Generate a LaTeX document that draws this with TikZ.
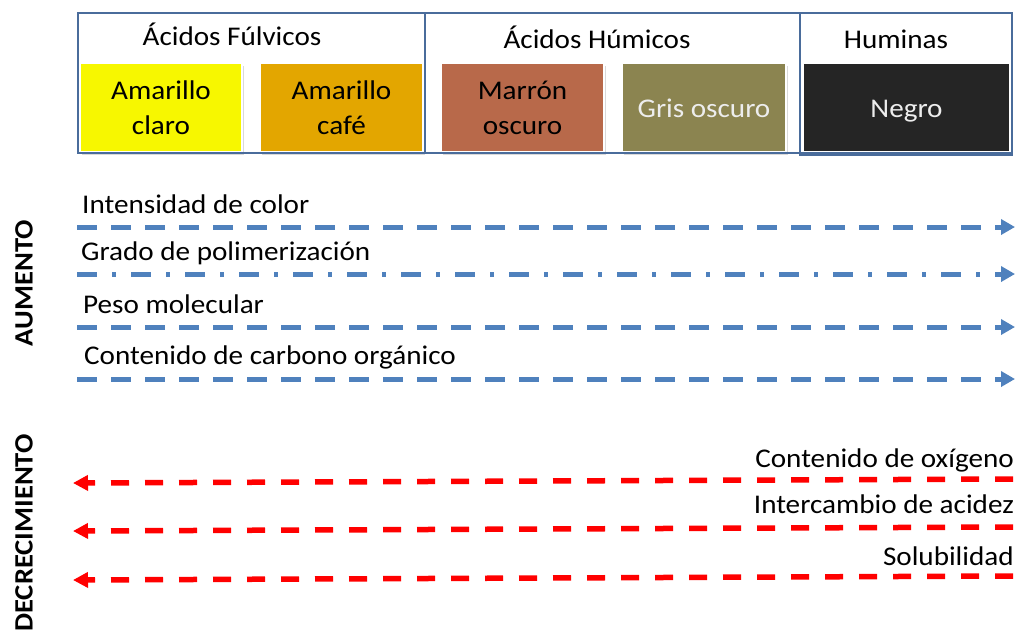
\documentclass[tikz,border=0pt]{standalone}
\usepackage{fontspec}
\setmainfont{Carlito}[FakeStretch=1.08]
\usepackage{tikz}
\usetikzlibrary{arrows.meta,shadows}
\definecolor{frameblue}{HTML}{4A6C9B}
\definecolor{arrowblue}{HTML}{4F81BD}
\definecolor{clarofill}{HTML}{F7F700}
\definecolor{cafefill}{HTML}{E3A600}
\definecolor{marronfill}{HTML}{B8694A}
\definecolor{grisfill}{HTML}{8B8450}
\definecolor{negrofill}{HTML}{252525}

\begin{document}
\begin{tikzpicture}[x=1pt,y=-1pt,font=\fontsize{27}{35}\selectfont,
  swatch/.style={draw=white,line width=1.5pt,minimum width=#1,minimum height=89pt,inner sep=0pt,align=center,
    drop shadow={shadow xshift=1.5pt,shadow yshift=-2.5pt,opacity=0.3}},
  group/.style={draw=frameblue,line width=2pt},
  head/.style={anchor=base,inner sep=0pt},
  incr/.style={draw=arrowblue,line width=5pt,dash pattern=on 20pt off 14pt,-{Triangle[length=14pt,width=15pt]}},
  decr/.style={draw=red,line width=5.5pt,dash pattern=on 18pt off 16pt,-{Triangle[length=15pt,width=15pt]}},
  lbl/.style={anchor=base west,inner sep=0pt},
  rlbl/.style={anchor=base east,inner sep=0pt},
  side/.style={font=\fontsize{26.5}{30}\selectfont\bfseries,rotate=90}]
  \useasboundingbox (0,0) rectangle (1020,633);
  % colour swatches
  \node[swatch=162pt,fill=clarofill]  (claro)  at (161,107.5)   {Amarillo\\claro};
  \node[swatch=163pt,fill=cafefill]   (cafe)   at (341.5,107.5) {Amarillo\\café};
  \node[swatch=163pt,fill=marronfill] (marron) at (522.5,107.5) {Marrón\\oscuro};
  \node[swatch=164pt,fill=grisfill,text=white!93!black] (gris) at (704,107.5) {\raisebox{-9.5pt}[0pt][0pt]{Gris oscuro}};
  \node[swatch=207pt,fill=negrofill,text=white!93!black] (negro) at (906.5,107.5) {\raisebox{-10pt}[0pt][0pt]{Negro}};
  % group frames
  \draw[group] (78,13) rectangle (1012,153);
  \draw[group] (425,13) -- (425,153);
  \draw[group] (800,13) rectangle (1012,155);
  \node[head] (fulv)  at (232,45) {Ácidos Fúlvicos};
  \node[head] (humic) at (597,48) {Ácidos Húmicos};
  \node[head] (humin) at (896,48) {Huminas};
  % increasing properties
  \node[side] (aum) at (24,283) {AUMENTO};
  \coordinate (a0) at (77,227);  \coordinate (a1) at (1015,227);
  \coordinate (b0) at (77,274);  \coordinate (b1) at (1015,274);
  \coordinate (c0) at (77,327);  \coordinate (c1) at (1015,327);
  \coordinate (d0) at (77,379);  \coordinate (d1) at (1015,379);
  \node[lbl] (inten) at (82,213) {Intensidad de color};
  \node[lbl] (grado) at (81,260) {Grado de polimerización};
  \node[lbl] (peso)  at (83,313) {Peso molecular};
  \node[lbl] (carb)  at (84,364) {Contenido de carbono orgánico};
  \draw[incr] (a0) -- (a1);
  \draw[incr,dash pattern=on 20pt off 15pt on 4pt off 15pt] (b0) -- (b1);
  \draw[incr] (c0) -- (c1);
  \draw[incr] (d0) -- (d1);
  % decreasing properties
  \node[side] (decr) at (24,533) {DECRECIMIENTO};
  \coordinate (e0) at (73,483);  \coordinate (e1) at (1013,479);
  \coordinate (f0) at (73,531);  \coordinate (f1) at (1013,527);
  \coordinate (g0) at (73,580);  \coordinate (g1) at (1013,576);
  \node[rlbl] (oxig)  at (1014,467) {Contenido de oxígeno};
  \node[rlbl] (acid)  at (1014,513) {Intercambio de acidez};
  \node[rlbl] (solub) at (1014,565) {Solubilidad};
  \draw[decr] (e1) -- (e0);
  \draw[decr] (f1) -- (f0);
  \draw[decr] (g1) -- (g0);
\end{tikzpicture}
\end{document}
